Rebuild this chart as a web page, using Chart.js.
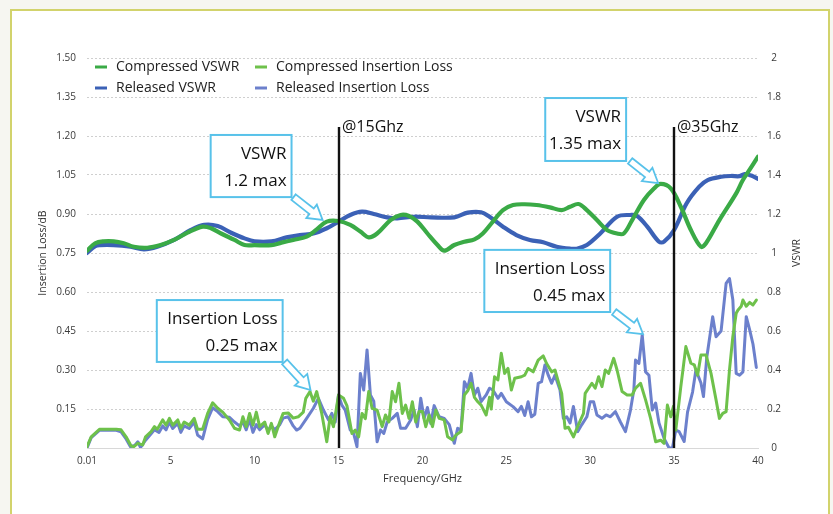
<!DOCTYPE html>
<html>
<head>
<meta charset="utf-8">
<script src="https://cdn.jsdelivr.net/npm/chart.js@4.4.1/dist/chart.umd.min.js"></script>
<style>
  html, body { margin: 0; padding: 0; background: #f6f6f1; }
  #wrap { position: relative; width: 833px; height: 514px; }
</style>
</head>
<body>
<div id="wrap"><canvas id="vswr-chart" width="833" height="514"></canvas></div>
<script>
// ── Data (frequency in GHz) ──
var freqCV = [0.01,0.5,1.0,1.6,2.2,2.8,3.6,4.4,5.2,6.0,6.9,7.4,8.0,8.8,9.4,10.0,11.0,11.6,12.3,13.1,
  13.7,14.3,15.0,15.7,16.3,16.8,17.3,18.1,18.7,19.2,19.7,20.3,20.9,21.3,21.9,22.5,23.1,23.6,24.2,24.8,
  25.4,26.1,26.8,27.6,28.3,28.8,29.3,29.8,30.4,31.0,31.6,32.0,32.5,33.2,33.8,34.2,34.8,35.4,36.0,36.6,
  36.9,37.7,38.7,39.1,39.6,40];
var compVSWR = [1.012,1.05,1.06,1.06,1.05,1.032,1.027,1.041,1.067,1.104,1.135,1.127,1.10,1.067,1.041,1.04,1.04,1.053,1.067,1.084,
  1.121,1.161,1.164,1.144,1.11,1.08,1.10,1.169,1.195,1.19,1.161,1.10,1.041,1.012,1.041,1.058,1.07,1.10,1.161,1.22,
  1.246,1.25,1.246,1.234,1.22,1.237,1.251,1.22,1.169,1.118,1.10,1.10,1.169,1.272,1.331,1.354,1.331,1.237,1.118,1.032,
  1.05,1.169,1.306,1.374,1.44,1.494];

var freqRV = [0.01,0.5,0.8,1.6,2.6,3.4,4.2,5.2,6.2,7.0,7.8,8.6,9.4,10.0,11.0,11.9,12.7,13.5,14.3,15.0,
  15.7,16.4,17.1,17.9,18.5,19.5,20.5,21.9,22.7,23.5,24.0,24.8,25.6,26.4,27.2,28.0,28.8,29.2,29.8,30.6,
  31.6,32.4,32.8,33.4,34.1,34.4,35.0,35.75,36.5,37.0,37.8,38.4,38.9,39.2,39.6,40];
var relVSWR = [1.0,1.035,1.04,1.04,1.032,1.019,1.032,1.067,1.118,1.144,1.138,1.104,1.075,1.06,1.06,1.08,1.092,1.10,1.127,1.161,
  1.195,1.212,1.20,1.183,1.178,1.186,1.183,1.183,1.207,1.209,1.186,1.135,1.092,1.067,1.055,1.032,1.022,1.022,1.041,1.10,
  1.186,1.195,1.19,1.135,1.058,1.058,1.118,1.255,1.34,1.374,1.391,1.395,1.394,1.405,1.397,1.38];

var freqCIL = [0.01,0.26,0.75,1.75,2.04,2.34,2.64,2.8,3.04,3.33,3.5,3.83,4.03,4.2,4.52,4.72,4.92,5.12,5.42,5.6,
  5.8,6.1,6.4,6.6,6.9,7.2,7.5,7.8,8.1,8.5,8.8,9.1,9.3,9.5,9.7,9.9,10.1,10.3,10.6,10.8,
  11.0,11.2,11.5,11.7,12.0,12.3,12.6,12.9,13.05,13.3,13.5,13.7,14.0,14.3,14.5,14.7,15.0,15.3,15.5,15.8,
  16.0,16.2,16.4,16.6,16.8,17.0,17.3,17.6,17.8,18.0,18.2,18.4,18.6,18.8,19.0,19.2,19.4,19.6,19.8,20.0,
  20.2,20.4,20.6,20.8,21.0,21.3,21.5,21.8,22.0,22.3,22.5,22.7,22.9,23.1,23.3,23.5,23.8,24.0,24.1,24.3,
  24.5,24.7,24.9,25.1,25.3,25.5,25.9,26.1,26.3,26.6,26.9,27.2,27.4,27.7,27.9,28.3,28.5,28.7,29.0,29.3,
  29.6,29.7,30.1,30.3,30.5,30.7,30.9,31.1,31.4,31.6,31.9,32.2,32.5,32.7,33.0,33.3,33.6,33.9,34.2,34.4,
  34.6,34.8,34.96,35.1,35.4,35.7,36.0,36.2,36.4,36.6,36.9,37.2,37.5,37.7,37.9,38.1,38.3,38.5,38.7,38.8,
  39.0,39.1,39.3,39.5,39.7,39.9];
var compIL = [0.005,0.043,0.072,0.072,0.070,0.043,0.008,0.005,0.018,0.012,0.043,0.063,0.082,0.072,0.108,0.088,0.114,0.088,0.108,0.076,
  0.100,0.088,0.114,0.072,0.072,0.133,0.174,0.153,0.138,0.108,0.076,0.069,0.120,0.082,0.133,0.088,0.138,0.082,0.100,0.056,
  0.095,0.043,0.100,0.133,0.135,0.115,0.120,0.138,0.191,0.217,0.180,0.217,0.133,0.024,0.120,0.082,0.204,0.191,0.163,0.056,
  0.069,0.043,0.133,0.113,0.217,0.153,0.146,0.082,0.127,0.100,0.217,0.178,0.249,0.133,0.165,0.114,0.178,0.100,0.140,0.140,
  0.082,0.127,0.082,0.146,0.114,0.108,0.043,0.031,0.050,0.063,0.204,0.220,0.249,0.195,0.178,0.165,0.127,0.195,0.150,0.274,
  0.262,0.364,0.287,0.306,0.223,0.268,0.274,0.280,0.306,0.293,0.338,0.354,0.325,0.293,0.300,0.210,0.076,0.080,0.043,0.090,
  0.133,0.210,0.249,0.230,0.274,0.236,0.300,0.287,0.345,0.300,0.217,0.204,0.204,0.230,0.249,0.185,0.114,0.024,0.030,0.018,
  0.165,0.120,0.160,0.069,0.236,0.390,0.326,0.320,0.280,0.358,0.358,0.287,0.185,0.114,0.133,0.140,0.300,0.428,0.518,0.530,
  0.545,0.569,0.545,0.560,0.550,0.569];

var freqRIL = [0.01,0.26,0.75,1.75,2.04,2.34,2.6,2.85,3.04,3.2,3.5,3.83,4.03,4.3,4.52,4.72,4.92,5.12,5.42,5.6,
  5.8,6.1,6.4,6.6,6.9,7.2,7.5,7.8,8.1,8.5,8.8,9.1,9.3,9.5,9.7,9.9,10.1,10.3,10.6,10.8,
  11.0,11.2,11.5,11.7,12.0,12.3,12.5,12.7,13.1,13.5,13.8,14.1,14.4,14.6,14.8,15.0,15.2,15.4,15.7,15.9,
  16.1,16.3,16.5,16.7,16.9,17.1,17.3,17.5,17.7,17.9,18.2,18.5,18.7,19.0,19.3,19.5,19.7,19.9,20.1,20.3,
  20.5,20.7,21.0,21.3,21.6,21.9,22.1,22.3,22.5,22.7,22.9,23.1,23.3,23.5,23.8,24.0,24.2,24.5,24.7,25.0,
  25.4,25.7,25.9,26.1,26.3,26.5,26.7,26.9,27.1,27.3,27.5,27.7,27.9,28.2,28.4,28.6,28.8,29.0,29.25,29.5,
  29.8,30.0,30.2,30.4,30.7,30.95,31.2,31.5,31.8,32.1,32.4,32.6,32.7,32.9,33.1,33.3,33.5,33.7,33.9,34.1,
  34.4,34.7,34.9,35.1,35.3,35.6,35.8,36.1,36.3,36.6,36.75,36.95,37.3,37.5,37.8,38.1,38.3,38.5,38.7,38.9,
  39.1,39.3,39.5,39.7,39.9];
var relIL = [0.000,0.040,0.068,0.068,0.062,0.035,0.005,0.010,0.024,0.002,0.030,0.055,0.070,0.060,0.085,0.070,0.100,0.075,0.095,0.060,
  0.085,0.075,0.100,0.050,0.035,0.110,0.155,0.140,0.120,0.118,0.100,0.085,0.100,0.070,0.110,0.060,0.090,0.070,0.090,0.068,
  0.085,0.070,0.090,0.115,0.120,0.085,0.069,0.076,0.114,0.153,0.191,0.146,0.108,0.133,0.100,0.204,0.165,0.146,0.069,0.056,
  0.005,0.287,0.223,0.377,0.204,0.180,0.024,0.069,0.056,0.100,0.114,0.133,0.076,0.076,0.108,0.146,0.082,0.191,0.114,0.156,
  0.094,0.163,0.120,0.114,0.090,0.018,0.076,0.069,0.255,0.230,0.287,0.204,0.230,0.178,0.204,0.230,0.223,0.191,0.210,0.178,
  0.159,0.140,0.160,0.125,0.178,0.120,0.130,0.249,0.255,0.319,0.280,0.249,0.280,0.223,0.114,0.120,0.096,0.160,0.063,0.090,
  0.120,0.178,0.178,0.127,0.114,0.127,0.120,0.140,0.100,0.063,0.146,0.223,0.338,0.325,0.435,0.293,0.280,0.146,0.173,0.096,
  0.037,0.000,0.000,0.069,0.063,0.025,0.138,0.215,0.300,0.250,0.198,0.350,0.505,0.428,0.450,0.633,0.652,0.570,0.287,0.280,
  0.293,0.505,0.455,0.400,0.310];

var xTicks = [0.01, 5, 10, 15, 20, 25, 30, 35, 40];
var markerFreqs = [15, 35];
var markerLabels = ['@15Ghz', '@35Ghz'];

// ── Styling ──
var FONT = '"Open Sans", "DejaVu Sans", sans-serif';
var C_CV = '#3aaa46';
var C_RV = '#3b61b6';
var C_CIL = '#6ec14b';
var C_RIL = '#6c80cc';
var BOX = '#58c2ea';

function toPts(xs, ys) {
  return xs.map(function (x, i) { return { x: x, y: ys[i] }; });
}

// callout boxes, positioned in axis units (GHz / dB)
var notes = [
  { lines: ['VSWR', '1.2 max'], x0: 7.38, x1: 12.2, y0: 1.204, y1: 0.965, tail: [12.32, 0.965], tip: [14.05, 0.877] },
  { lines: ['VSWR', '1.35 max'], x0: 27.32, x1: 32.14, y0: 1.346, y1: 1.104, tail: [32.38, 1.104], tip: [34.05, 1.019] },
  { lines: ['Insertion Loss', '0.45 max'], x0: 23.69, x1: 31.19, y0: 0.762, y1: 0.523, tail: [31.43, 0.523], tip: [33.15, 0.438] },
  { lines: ['Insertion Loss', '0.25 max'], x0: 4.17, x1: 11.67, y0: 0.569, y1: 0.331, tail: [11.79, 0.331], tip: [13.33, 0.223] }
];
var markerTop = 1.235;

function drawArrow(c, x0, y0, x1, y1) {
  var dx = x1 - x0, dy = y1 - y0;
  var L = Math.sqrt(dx * dx + dy * dy);
  var s = 3.5, H = 8.5, h = 14;
  c.save();
  c.translate(x0, y0);
  c.rotate(Math.atan2(dy, dx));
  c.beginPath();
  c.moveTo(0, -s); c.lineTo(L - h, -s); c.lineTo(L - h, -H); c.lineTo(L, 0);
  c.lineTo(L - h, H); c.lineTo(L - h, s); c.lineTo(0, s); c.closePath();
  c.fillStyle = '#ffffff'; c.fill();
  c.strokeStyle = BOX; c.lineWidth = 1.8; c.lineJoin = 'miter'; c.stroke();
  c.restore();
}

var decor = {
  id: 'decor',
  beforeDraw: function (chart) {
    var c = chart.ctx;
    c.save();
    c.fillStyle = '#f6f6f1';
    c.fillRect(0, 0, chart.width, chart.height);
    c.fillStyle = '#ffffff';
    c.fillRect(11, 10, 818, 520);
    c.strokeStyle = '#d2d36c';
    c.lineWidth = 2;
    c.strokeRect(11, 10, 818, 520);
    c.restore();
  },
  afterDraw: function (chart) {
    var c = chart.ctx;
    var xs = chart.scales.x, yl = chart.scales.y;
    var ca = chart.chartArea;
    c.save();

    // frequency markers
    markerFreqs.forEach(function (f, i) {
      var px = Math.round(xs.getPixelForValue(f));
      var top = yl.getPixelForValue(markerTop);
      c.strokeStyle = '#111111'; c.lineWidth = 2.4;
      c.beginPath(); c.moveTo(px, top); c.lineTo(px, ca.bottom); c.stroke();
      c.font = '16px ' + FONT; c.fillStyle = '#111111';
      c.textAlign = 'left'; c.textBaseline = 'middle';
      c.fillText(markerLabels[i], px + 3, top + 1);
    });

    // callouts
    notes.forEach(function (n) {
      var tx = xs.getPixelForValue(n.tail[0]), ty = yl.getPixelForValue(n.tail[1]);
      var px = xs.getPixelForValue(n.tip[0]), py = yl.getPixelForValue(n.tip[1]);
      drawArrow(c, tx, ty, px, py);
      var bx0 = xs.getPixelForValue(n.x0), bx1 = xs.getPixelForValue(n.x1);
      var by0 = yl.getPixelForValue(n.y0), by1 = yl.getPixelForValue(n.y1);
      c.fillStyle = '#ffffff';
      c.fillRect(bx0, by0, bx1 - bx0, by1 - by0);
      c.strokeStyle = BOX; c.lineWidth = 2;
      c.strokeRect(bx0, by0, bx1 - bx0, by1 - by0);
      c.font = '17px ' + FONT; c.fillStyle = '#111111';
      c.textAlign = 'right'; c.textBaseline = 'middle';
      c.fillText(n.lines[0], bx1 - 5, by0 + 19);
      c.fillText(n.lines[1], bx1 - 5, by0 + 46);
    });

    // legend (2 x 2)
    var order = ['Compressed VSWR', 'Compressed Insertion Loss', 'Released VSWR', 'Released Insertion Loss'];
    var colX = [95, 255], rowY = [67, 88];
    order.forEach(function (label, i) {
      var ds = chart.data.datasets.filter(function (d) { return d.label === label; })[0];
      var x = colX[i % 2], y = rowY[Math.floor(i / 2)];
      c.strokeStyle = ds.borderColor; c.lineWidth = 3;
      c.beginPath(); c.moveTo(x, y); c.lineTo(x + 12, y); c.stroke();
      c.font = '14px ' + FONT; c.fillStyle = '#222222';
      c.textAlign = 'left'; c.textBaseline = 'middle';
      c.fillText(label, x + 21, y);
    });

    // axis titles
    var midY = (ca.top + ca.bottom) / 2;
    c.fillStyle = '#333333';
    c.font = '10.5px ' + FONT;
    c.textAlign = 'center'; c.textBaseline = 'middle';
    c.save(); c.translate(43, midY); c.rotate(-Math.PI / 2);
    c.fillText('Insertion Loss/dB', 0, 0); c.restore();
    c.save(); c.translate(797, midY); c.rotate(-Math.PI / 2);
    c.fillText('VSWR', 0, 0); c.restore();
    c.font = '11px ' + FONT;
    c.fillText('Frequency/GHz', (ca.left + ca.right) / 2, 479);

    c.restore();
  }
};

Chart.defaults.font.family = FONT;
Chart.defaults.font.size = 10;
Chart.defaults.color = '#3a3a3a';

var ctx = document.getElementById('vswr-chart').getContext('2d');
var chart = new Chart(ctx, {
  type: 'line',
  data: {
    datasets: [
      { label: 'Released Insertion Loss', data: toPts(freqRIL, relIL), borderColor: C_RIL, borderWidth: 3, yAxisID: 'y', order: 4, tension: 0 },
      { label: 'Compressed Insertion Loss', data: toPts(freqCIL, compIL), borderColor: C_CIL, borderWidth: 3, yAxisID: 'y', order: 3, tension: 0 },
      { label: 'Released VSWR', data: toPts(freqRV, relVSWR), borderColor: C_RV, borderWidth: 4.2, yAxisID: 'y2', order: 2, tension: 0.35 },
      { label: 'Compressed VSWR', data: toPts(freqCV, compVSWR), borderColor: C_CV, borderWidth: 4.2, yAxisID: 'y2', order: 1, tension: 0.35 }
    ]
  },
  options: {
    responsive: false,
    animation: false,
    layout: { padding: { top: 58, left: 0, right: 0, bottom: 0 } },
    plugins: { legend: { display: false }, tooltip: { enabled: false } },
    elements: {
      point: { radius: 0 },
      line: { borderJoinStyle: 'round', borderCapStyle: 'round', fill: false }
    },
    scales: {
      x: {
        type: 'linear',
        min: 0.01,
        max: 40,
        afterBuildTicks: function (scale) {
          scale.ticks = xTicks.map(function (v) { return { value: v }; });
        },
        afterFit: function (scale) { scale.height = 66; },
        ticks: {
          autoSkip: false, maxRotation: 0, padding: 7, color: '#3a3a3a',
          callback: function (v) { return String(v); }
        },
        grid: { display: false, drawTicks: false },
        border: { display: true, color: '#d8d8d8', width: 1 }
      },
      y: {
        position: 'left',
        min: 0,
        max: 1.5,
        afterFit: function (scale) { scale.width = 87; },
        ticks: {
          stepSize: 0.15, padding: 11, color: '#3a3a3a',
          callback: function (v) { return v < 0.001 ? '' : v.toFixed(2); }
        },
        grid: { color: '#cfcfcf', lineWidth: 1, drawTicks: false },
        border: { display: false, dash: [2, 2] }
      },
      y2: {
        position: 'right',
        min: 0,
        max: 2,
        afterFit: function (scale) { scale.width = 75; },
        ticks: {
          stepSize: 0.2, padding: 9, crossAlign: 'center', color: '#3a3a3a',
          callback: function (v) { return String(Math.round(v * 10) / 10); }
        },
        grid: { display: false, drawTicks: false },
        border: { display: false }
      }
    }
  },
  plugins: [decor]
});
</script>
</body>
</html>
